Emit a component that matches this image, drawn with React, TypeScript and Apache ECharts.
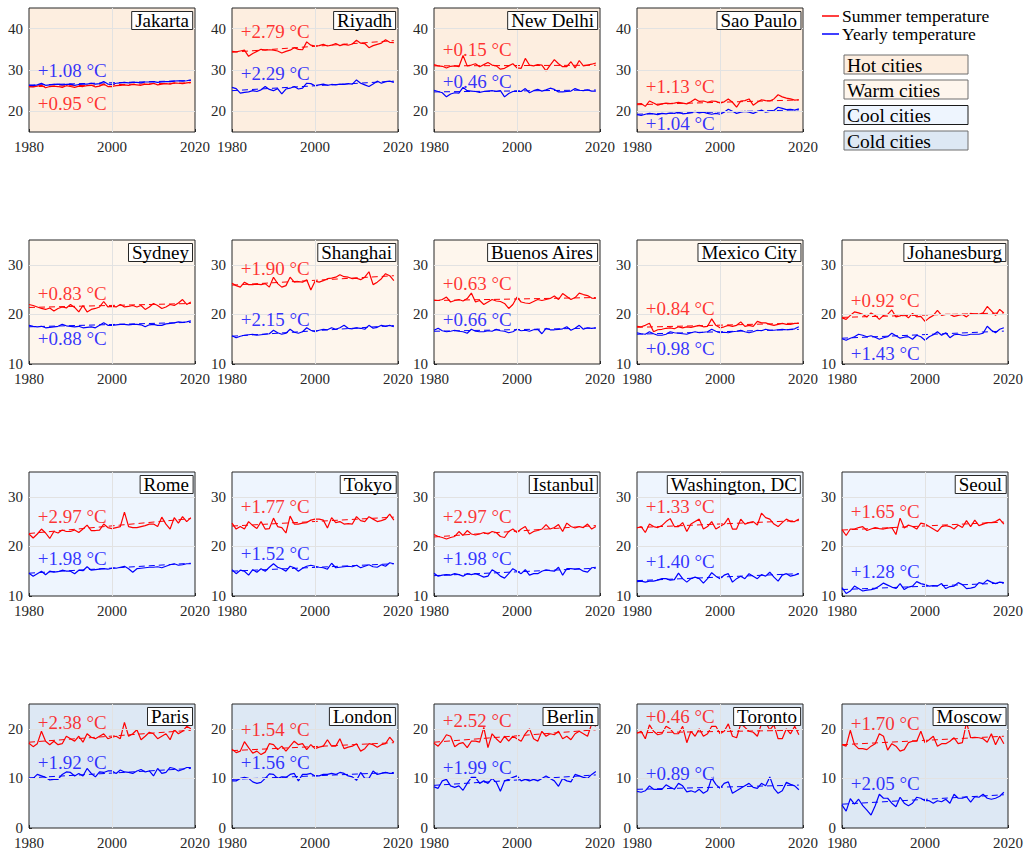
import React, { useEffect, useRef } from 'react';
import * as echarts from 'echarts';

// ---------- DATA ----------
const YEARS = [1980, 1981, 1982, 1983, 1984, 1985, 1986, 1987, 1988, 1989,
  1990, 1991, 1992, 1993, 1994, 1995, 1996, 1997, 1998, 1999,
  2000, 2001, 2002, 2003, 2004, 2005, 2006, 2007, 2008, 2009,
  2010, 2011, 2012, 2013, 2014, 2015, 2016, 2017, 2018, 2019];

const CITIES = ['Jakarta', 'Riyadh', 'New Delhi', 'Sao Paulo',
  'Sydney', 'Shanghai', 'Buenos Aires', 'Mexico City', 'Johanesburg',
  'Rome', 'Tokyo', 'Istanbul', 'Washington, DC', 'Seoul',
  'Paris', 'London', 'Berlin', 'Toronto', 'Moscow'];

const CITY_GROUP = ['Hot', 'Hot', 'Hot', 'Hot',
  'Warm', 'Warm', 'Warm', 'Warm', 'Warm',
  'Cool', 'Cool', 'Cool', 'Cool', 'Cool',
  'Cold', 'Cold', 'Cold', 'Cold', 'Cold'];

const GROUP_NAMES = ['Hot cities', 'Warm cities', 'Cool cities', 'Cold cities'];

const JAKARTA_SUMMER = [26.0,25.9,26.1,26.3,25.7,26.0,26.1,26.0,25.8,26.2,26.0,25.8,26.1,26.0,26.2,26.3,25.9,26.1,26.6,26.0,26.0,26.2,26.3,26.4,26.3,26.5,26.4,26.3,26.6,26.5,26.8,26.4,26.6,26.7,26.6,26.9,26.8,26.7,26.9,27.0];
const JAKARTA_YEARLY = [26.3,26.2,26.4,26.8,26.3,26.4,26.5,26.6,26.4,26.5,26.6,26.3,26.5,26.6,26.6,26.8,26.6,26.7,27.2,26.6,26.5,26.8,26.9,27.0,26.9,27.0,27.0,26.9,27.1,27.1,27.2,27.0,27.1,27.2,27.2,27.3,27.4,27.3,27.4,27.6];
const RIYADH_SUMMER = [34.5,34.4,34.6,34.8,33.3,34.0,34.5,35.0,34.8,34.9,34.8,34.6,34.1,34.5,34.8,35.4,35.0,34.9,36.8,36.0,35.8,35.9,36.2,35.8,36.0,36.4,35.9,36.2,36.0,36.3,37.2,36.5,36.4,35.4,35.9,36.2,36.5,37.3,36.7,36.6];
const RIYADH_YEARLY = [25.8,25.5,24.4,24.6,24.7,25.0,24.8,25.2,26.0,25.3,25.0,25.5,24.2,25.4,25.6,26.0,25.4,25.6,26.8,26.7,26.2,26.4,26.6,26.3,26.5,26.4,26.6,26.5,26.7,26.6,27.6,26.8,26.4,26.0,26.6,27.3,26.8,27.2,27.3,27.0];
const NEW_DELHI_SUMMER = [31.3,31.0,30.9,30.5,30.9,31.0,30.8,33.5,31.0,31.2,31.5,30.8,31.3,31.8,31.2,31.0,30.2,30.4,31.0,31.5,30.5,30.4,32.8,31.2,31.0,31.3,31.2,29.8,31.2,32.5,31.5,30.8,30.8,32.0,30.5,32.3,31.0,31.2,31.4,31.7];
const NEW_DELHI_YEARLY = [25.1,24.8,24.5,23.5,24.2,24.5,24.4,25.8,25.0,24.9,24.8,24.6,24.8,24.9,25.0,24.8,25.0,23.5,24.3,24.8,24.9,24.8,25.5,24.5,25.0,25.3,24.9,25.2,25.6,25.3,24.7,24.7,24.8,24.9,25.5,25.1,25.0,25.2,24.9,24.9];
const SAO_PAULO_SUMMER = [21.8,21.9,21.2,22.5,22.0,21.5,21.8,22.0,21.9,22.0,22.2,22.0,21.8,22.3,23.0,22.4,22.5,22.2,22.5,22.4,22.0,22.3,23.0,22.2,21.0,22.5,22.6,23.0,21.5,22.2,22.8,22.6,22.5,23.0,24.0,23.5,23.2,23.0,22.7,22.8];
const SAO_PAULO_YEARLY = [19.2,19.0,19.3,19.5,19.4,19.2,19.5,19.4,19.6,19.5,19.8,19.4,19.5,19.7,20.0,19.6,19.8,19.5,19.3,19.5,19.3,19.8,20.5,20.0,19.5,19.8,20.0,19.8,19.5,19.9,20.3,19.8,20.0,20.2,21.0,20.7,20.4,20.5,20.3,20.6];
const SYDNEY_SUMMER = [22.0,21.8,21.5,21.2,21.0,21.3,20.7,21.2,21.5,21.3,22.0,21.4,20.5,21.8,20.5,21.0,21.2,21.5,22.6,21.5,21.6,21.5,22.0,21.5,21.6,21.8,21.5,21.8,21.0,21.5,22.2,21.8,21.2,21.5,22.0,21.8,22.3,23.0,22.0,22.5];
const SYDNEY_YEARLY = [17.8,17.6,17.5,17.6,17.3,17.4,17.5,17.6,18.0,17.7,17.6,17.5,17.6,17.3,17.4,17.5,17.3,17.8,18.3,17.8,17.8,17.9,18.0,18.0,17.9,18.0,18.0,17.9,17.5,17.9,18.0,17.8,17.8,18.1,18.2,18.3,18.5,18.4,18.5,18.7];
const SHANGHAI_SUMMER = [26.3,25.8,25.5,26.5,26.0,26.0,26.1,26.0,26.2,25.5,27.5,26.2,25.5,25.8,27.5,26.5,26.6,26.5,27.0,24.9,26.7,26.5,26.8,27.2,27.3,27.5,28.0,27.6,27.5,27.2,27.3,27.0,27.5,28.6,26.0,26.5,27.2,28.2,27.8,26.8];
const SHANGHAI_YEARLY = [15.7,15.3,15.6,15.8,15.9,16.0,15.8,15.9,16.0,16.1,16.8,16.3,16.0,16.2,17.0,16.4,16.2,16.5,17.3,16.8,16.5,16.8,17.0,16.9,17.3,17.0,17.3,17.8,17.2,17.1,17.3,17.2,17.0,17.8,17.2,17.4,17.8,17.6,17.8,17.5];
const BUENOS_AIRES_SUMMER = [22.9,22.8,23.0,23.5,22.5,22.8,23.0,22.7,23.2,24.3,22.5,22.8,22.0,22.5,23.0,22.7,22.6,22.2,21.2,22.0,23.5,22.5,22.3,22.2,22.6,23.0,22.8,23.0,23.2,23.7,23.0,24.2,23.6,23.0,23.4,24.3,24.0,23.8,23.3,23.2];
const BUENOS_AIRES_YEARLY = [16.8,17.2,16.7,16.5,16.6,16.8,16.6,16.5,16.2,17.0,16.6,16.5,16.5,16.7,16.6,17.0,16.7,16.6,16.3,16.5,17.0,16.7,16.8,16.6,16.9,17.0,16.1,17.2,16.9,16.9,17.0,17.1,17.5,16.8,17.2,17.8,17.0,17.3,17.2,17.3];
const MEXICO_CITY_SUMMER = [17.6,17.5,17.8,18.2,16.5,16.9,17.0,17.2,17.3,17.1,17.5,17.3,17.5,17.4,17.6,17.8,17.5,17.6,19.1,17.8,17.3,17.5,17.8,17.6,17.8,18.5,17.6,17.8,17.6,18.6,18.3,18.3,18.0,17.8,18.0,18.2,18.0,18.0,18.2,18.2];
const MEXICO_CITY_YEARLY = [16.3,16.1,16.0,16.5,16.1,15.8,15.8,16.0,16.5,16.3,16.2,16.1,16.0,16.3,16.5,16.3,16.4,16.5,17.0,16.6,16.3,16.4,16.3,16.5,16.6,16.8,16.5,16.3,16.5,16.8,16.7,17.0,16.8,16.8,16.9,17.0,16.9,17.0,17.1,17.5];
const JOHANESBURG_SUMMER = [19.3,19.0,19.8,20.5,20.3,20.0,19.5,20.3,19.8,19.0,19.8,20.0,20.9,19.5,19.7,20.0,19.3,20.2,19.5,19.6,18.6,19.3,19.8,20.8,19.8,20.0,20.0,19.6,19.8,20.0,19.5,20.2,20.0,20.0,20.3,21.6,20.7,19.8,21.0,20.3];
const JOHANESBURG_YEARLY = [15.1,14.8,15.2,15.5,16.0,15.8,15.5,15.7,15.4,15.0,15.3,15.5,16.2,15.7,15.2,15.4,15.5,15.0,15.8,15.5,14.8,15.5,15.9,16.5,15.8,16.3,15.3,15.9,16.0,15.8,15.8,16.0,16.0,16.0,16.2,17.6,16.8,16.3,17.0,17.3];
const ROME_SUMMER = [22.5,21.7,22.5,23.5,22.7,21.6,23.0,22.7,23.3,23.0,23.0,23.3,22.8,23.5,24.3,23.2,23.2,23.3,24.5,23.8,23.6,23.8,24.0,26.9,24.0,23.8,23.8,24.0,24.2,24.5,24.5,24.0,25.9,24.5,23.5,25.8,24.7,26.0,25.0,25.8];
const ROME_YEARLY = [14.6,14.0,14.5,15.0,14.3,15.0,14.8,14.9,15.2,15.0,15.0,14.5,15.2,15.1,15.9,15.2,15.3,15.4,15.5,15.4,15.6,15.6,15.8,16.0,15.5,14.8,15.5,15.6,15.7,15.8,15.8,15.9,15.7,16.0,16.3,16.5,16.2,16.3,16.5,16.5];
const TOKYO_SUMMER = [24.7,23.5,24.0,23.5,25.0,24.2,23.6,25.0,23.5,23.6,25.7,24.0,23.8,22.7,26.1,24.5,24.5,24.7,24.8,25.3,25.5,25.5,25.3,23.7,25.8,24.8,25.0,24.5,24.6,24.5,26.0,25.2,25.0,26.0,25.5,25.0,25.2,25.5,26.5,25.3];
const TOKYO_YEARLY = [15.3,14.5,15.2,15.0,14.2,15.3,14.8,15.5,15.0,15.8,16.5,15.8,15.5,15.0,16.0,15.7,15.0,15.6,16.0,16.2,16.0,15.8,15.7,15.4,16.6,15.7,15.8,15.9,16.0,15.9,16.2,15.7,16.0,16.3,15.9,15.8,16.3,16.0,16.7,16.5];
const ISTANBUL_SUMMER = [22.4,22.0,21.8,21.5,21.8,22.0,23.0,22.2,23.2,22.5,22.3,22.5,22.8,22.5,23.0,22.8,22.0,21.8,23.0,23.5,22.8,23.5,24.0,22.5,23.0,23.2,23.5,24.4,23.5,23.8,24.4,23.0,24.7,24.0,23.7,24.0,23.8,24.5,23.5,24.0];
const ISTANBUL_YEARLY = [14.6,14.0,14.2,14.3,14.2,14.5,14.3,14.0,14.5,14.3,14.5,14.2,13.8,14.0,15.3,14.8,14.0,13.6,14.5,15.5,15.0,14.5,15.3,14.2,14.5,14.5,15.0,15.3,15.1,15.0,15.8,14.2,15.5,15.5,15.4,15.5,15.0,14.8,15.7,15.8];
const WASHINGTON_SUMMER = [23.7,24.0,22.8,24.5,24.0,23.8,24.2,25.0,25.6,24.0,24.0,24.8,23.0,24.5,25.0,25.5,23.5,24.0,25.0,23.5,24.0,24.5,25.7,23.5,23.5,25.5,24.5,24.8,25.0,24.3,26.7,25.8,25.5,24.5,24.0,24.8,25.5,25.0,25.0,25.5];
const WASHINGTON_YEARLY = [12.9,13.0,12.8,13.0,13.0,13.2,13.5,13.5,13.2,13.3,14.6,13.5,12.8,13.5,13.8,13.5,12.6,13.5,14.7,14.0,13.5,14.2,14.5,12.8,13.5,14.0,13.5,14.5,14.0,13.5,14.3,14.0,14.8,13.8,13.0,14.2,14.5,14.0,14.2,14.5];
const SEOUL_SUMMER = [23.4,22.2,23.5,23.5,23.8,24.0,23.2,23.5,23.8,23.6,23.5,23.7,23.8,22.4,25.7,23.7,24.3,24.0,23.5,24.7,24.5,24.0,23.5,23.0,24.0,24.2,24.0,23.5,24.3,23.8,25.2,24.0,25.3,24.2,24.5,24.8,24.8,25.0,25.5,24.5];
const SEOUL_YEARLY = [11.7,10.5,11.0,12.0,11.5,11.0,11.2,11.3,11.5,12.0,12.6,12.2,11.8,11.5,12.5,11.3,11.8,12.0,12.9,12.5,12.3,12.0,12.1,12.0,12.5,11.5,11.9,12.0,12.7,12.3,11.5,11.6,11.8,12.7,12.5,13.2,12.8,12.5,12.8,12.7];
const PARIS_SUMMER = [17.1,16.4,17.0,19.5,17.5,16.8,17.5,16.8,17.0,18.5,18.0,17.5,18.5,17.3,19.0,18.3,18.0,18.5,19.0,18.0,18.3,18.5,18.0,21.3,18.5,19.0,19.8,17.8,18.5,19.3,19.0,18.0,18.5,19.0,17.8,19.8,19.0,19.5,20.5,20.0];
const PARIS_YEARLY = [10.0,10.0,10.8,10.5,10.2,9.7,9.8,9.8,10.8,11.3,11.2,10.5,11.0,10.5,12.0,11.0,10.3,11.3,11.2,11.5,11.5,11.0,11.7,11.3,11.2,11.0,11.5,11.8,11.3,11.5,10.5,12.0,11.0,11.2,12.2,12.0,11.5,11.8,12.2,12.2];
const LONDON_SUMMER = [15.9,15.2,15.5,17.4,16.2,15.1,15.5,14.8,15.3,17.0,16.8,15.8,16.5,15.5,16.5,17.5,16.8,17.0,15.8,16.8,16.0,16.3,16.5,17.8,16.5,16.5,18.0,16.0,16.3,16.5,17.0,15.5,16.0,17.0,16.8,16.3,16.8,17.0,18.3,17.3];
const LONDON_YEARLY = [9.5,9.5,10.0,10.2,10.0,9.3,9.0,9.2,10.0,10.9,10.8,10.0,10.3,10.2,10.8,11.0,9.5,10.8,10.8,11.0,10.5,10.5,10.8,10.8,11.0,10.8,11.2,11.0,10.5,10.3,9.6,11.2,10.0,10.0,11.5,10.8,11.0,11.2,11.0,11.0];
const BERLIN_SUMMER = [17.1,16.5,17.5,18.8,18.5,16.4,17.0,17.2,16.2,17.5,17.5,17.3,20.3,16.2,19.0,18.0,17.2,18.5,17.5,18.5,18.0,17.5,19.0,20.0,18.0,17.5,19.5,18.5,19.0,18.8,19.5,18.0,18.5,17.8,19.0,19.5,19.0,18.5,21.0,20.5];
const BERLIN_YEARLY = [8.3,8.0,9.5,9.8,8.5,8.2,8.5,7.6,9.0,10.2,10.2,9.0,9.5,9.0,10.0,9.2,7.4,9.5,9.8,10.2,10.5,9.5,9.8,9.5,9.8,9.5,10.0,10.5,10.0,9.5,8.4,10.0,9.5,9.3,10.8,10.5,10.2,10.0,10.8,11.4];
const TORONTO_SUMMER = [19.1,19.5,18.0,20.8,19.5,18.8,19.0,20.5,20.0,19.0,19.0,20.5,17.2,19.5,18.5,20.0,18.5,19.0,20.5,20.5,19.0,19.5,21.0,18.5,18.2,21.0,20.3,19.5,19.3,18.5,21.0,21.2,19.8,20.8,18.0,18.0,20.0,19.0,20.5,18.8];
const TORONTO_YEARLY = [7.4,7.2,7.5,8.5,7.8,7.8,7.8,8.7,8.2,7.8,9.0,8.5,7.3,7.5,7.2,7.8,7.0,7.5,10.1,8.8,8.0,9.0,9.3,7.0,7.5,8.0,8.5,9.0,8.2,8.0,9.0,8.5,10.3,8.0,7.0,7.5,9.2,8.8,8.5,7.7];
const MOSCOW_SUMMER = [16.8,16.5,19.7,16.8,16.0,16.0,15.8,16.5,17.0,19.0,18.5,15.7,17.0,16.5,15.5,15.8,17.2,17.5,17.5,19.5,17.2,17.8,18.5,16.5,17.0,17.0,17.5,18.2,17.0,17.2,21.3,18.2,18.3,18.2,18.0,17.3,19.0,16.8,18.5,17.0];
const MOSCOW_YEARLY = [4.6,3.4,5.9,4.8,5.8,4.5,3.6,2.6,4.5,6.8,6.0,6.0,5.0,4.3,6.2,5.0,4.5,5.0,6.2,6.0,5.5,5.5,5.0,5.5,5.3,5.8,5.0,6.8,6.0,6.0,6.3,5.2,6.3,6.2,6.8,6.0,5.8,6.0,6.4,7.2];

const SUMMER_SERIES = [JAKARTA_SUMMER, RIYADH_SUMMER, NEW_DELHI_SUMMER, SAO_PAULO_SUMMER,
  SYDNEY_SUMMER, SHANGHAI_SUMMER, BUENOS_AIRES_SUMMER, MEXICO_CITY_SUMMER, JOHANESBURG_SUMMER,
  ROME_SUMMER, TOKYO_SUMMER, ISTANBUL_SUMMER, WASHINGTON_SUMMER, SEOUL_SUMMER,
  PARIS_SUMMER, LONDON_SUMMER, BERLIN_SUMMER, TORONTO_SUMMER, MOSCOW_SUMMER];
const YEARLY_SERIES = [JAKARTA_YEARLY, RIYADH_YEARLY, NEW_DELHI_YEARLY, SAO_PAULO_YEARLY,
  SYDNEY_YEARLY, SHANGHAI_YEARLY, BUENOS_AIRES_YEARLY, MEXICO_CITY_YEARLY, JOHANESBURG_YEARLY,
  ROME_YEARLY, TOKYO_YEARLY, ISTANBUL_YEARLY, WASHINGTON_YEARLY, SEOUL_YEARLY,
  PARIS_YEARLY, LONDON_YEARLY, BERLIN_YEARLY, TORONTO_YEARLY, MOSCOW_YEARLY];

const SUMMER_TREND_START = [25.95, 34.3, 31.0, 21.6, 21.4, 25.9, 22.8, 17.4, 19.4, 22.6, 24.1, 21.9, 23.8, 23.3, 17.3, 15.6, 17.3, 19.2, 16.8];
const SUMMER_TREND_END = [26.9, 37.1, 31.15, 22.75, 22.2, 27.8, 23.4, 18.24, 20.3, 25.6, 25.9, 24.2, 25.2, 24.9, 19.7, 17.2, 19.8, 19.7, 18.5];
const YEARLY_TREND_START = [26.35, 25.0, 24.7, 19.3, 17.5, 15.6, 16.6, 16.0, 15.2, 14.6, 15.0, 14.1, 13.1, 11.3, 10.1, 9.8, 8.6, 7.8, 4.8];
const YEARLY_TREND_END = [27.45, 27.3, 25.16, 20.35, 18.4, 17.75, 17.25, 16.98, 16.63, 16.6, 16.5, 15.6, 14.5, 12.6, 12.0, 11.2, 10.7, 8.65, 6.7];

const SUMMER_DELTA = [0.95, 2.79, 0.15, 1.13, 0.83, 1.90, 0.63, 0.84, 0.92, 2.97, 1.77, 2.97, 1.33, 1.65, 2.38, 1.54, 2.52, 0.46, 1.70];
const YEARLY_DELTA = [1.08, 2.29, 0.46, 1.04, 0.88, 2.15, 0.66, 0.98, 1.43, 1.98, 1.52, 1.98, 1.40, 1.28, 1.92, 1.56, 1.99, 0.89, 2.05];

const X_TICKS = [1980, 2000, 2020];
const ROW_Y_RANGE = [[15, 45], [10, 35], [10, 35], [0, 25]];
const ROW_Y_TICKS = [[20, 30, 40], [10, 20, 30], [10, 20, 30], [0, 10, 20]];

// ---------- LAYOUT ----------
const SUMMER_LABEL_Y = [22.0, 39.2, 35.0, 26.1, 24.3, 29.2, 26.2, 21.2, 22.9, 26.1, 28.1, 26.1, 28.1, 27.1, 21.3, 19.8, 21.7, 22.4, 21.1];
const YEARLY_LABEL_Y = [30.0, 29.2, 27.2, 17.0, 15.1, 19.05, 19.05, 13.1, 12.1, 17.6, 18.6, 17.5, 17.0, 14.9, 13.2, 13.2, 12.2, 10.9, 9.0];
const LABEL_X = 1982.0;

const W = 1026;
const H = 852;
const COL_LEFT = [29, 232, 434, 637, 842];
const ROW_TOP = [8, 240, 472, 704];
const PANEL_W = 166;
const PANEL_H = 124;

const FONT = '"Liberation Serif", "Times New Roman", serif';
const AXIS_COLOR = '#262626';
const GRID_COLOR = '#e2e2e2';
const RED = '#ff0000';
const BLUE = '#0000ff';
const GROUP_BG: Record<string, string> = { Hot: '#fdeee0', Warm: '#fef6ed', Cool: '#eef5fe', Cold: '#dde8f4' };
const GROUP_BORDER: Record<string, string> = { Hot: '#6e6e6e', Warm: '#6e6e6e', Cool: '#1a1a1a', Cold: '#6e6e6e' };

function panelPos(i: number) {
  if (i < 4) return { row: 0, col: i };
  const k = i - 4;
  return { row: 1 + Math.floor(k / 5), col: k % 5 };
}

function fmt(v: number) {
  return '+' + v.toFixed(2) + ' \u00B0C';
}

function buildOption() {
  const grid: any[] = [];
  const xAxis: any[] = [];
  const yAxis: any[] = [];
  const series: any[] = [];
  const title: any[] = [];

  CITIES.forEach((name, i) => {
    const { row, col } = panelPos(i);
    const left = COL_LEFT[col];
    const top = ROW_TOP[row];
    const group = CITY_GROUP[i];
    grid.push({
      left, top, width: PANEL_W, height: PANEL_H,
      show: true, backgroundColor: GROUP_BG[group], borderColor: AXIS_COLOR, borderWidth: 1,
    });
    xAxis.push({
      type: 'value', gridIndex: i, min: 1980, max: 2020,
      axisLine: { show: false },
      axisTick: { show: true, inside: true, length: 3, customValues: X_TICKS, lineStyle: { color: AXIS_COLOR } },
      axisLabel: { customValues: X_TICKS, fontFamily: FONT, fontSize: 15, color: AXIS_COLOR, margin: 7, formatter: (v: number) => String(v) },
      splitLine: { show: false },
    });
    const yr = ROW_Y_RANGE[row];
    yAxis.push({
      type: 'value', gridIndex: i, min: yr[0], max: yr[1],
      axisLine: { show: false },
      axisTick: { show: true, inside: true, length: 3, customValues: ROW_Y_TICKS[row], lineStyle: { color: AXIS_COLOR } },
      axisLabel: { customValues: ROW_Y_TICKS[row], fontFamily: FONT, fontSize: 15, color: AXIS_COLOR, margin: 6 },
      splitLine: { show: false },
    });

    const gridLines = ROW_Y_TICKS[row].filter((v) => v > yr[0] && v < yr[1]).map((v) => ({ yAxis: v }));

    series.push({
      type: 'line', xAxisIndex: i, yAxisIndex: i, z: 1, silent: true, symbol: 'none',
      data: [[YEARS[0], SUMMER_TREND_START[i]], [YEARS[YEARS.length - 1], SUMMER_TREND_END[i]]],
      lineStyle: { color: RED, width: 1, type: [6, 4] },
      markLine: {
        silent: true, symbol: ['none', 'none'], label: { show: false },
        lineStyle: { color: GRID_COLOR, width: 1, type: 'solid' },
        data: [...gridLines, { xAxis: 2000 }],
      },
    });
    series.push({
      type: 'line', xAxisIndex: i, yAxisIndex: i, z: 2, silent: true, symbol: 'none',
      data: [[YEARS[0], YEARLY_TREND_START[i]], [YEARS[YEARS.length - 1], YEARLY_TREND_END[i]]],
      lineStyle: { color: BLUE, width: 1, type: [6, 4] },
    });
    series.push({
      name: 'Summer temperature',
      type: 'line', xAxisIndex: i, yAxisIndex: i, z: 3, silent: true, symbol: 'none',
      data: YEARS.map((y, k) => [y, SUMMER_SERIES[i][k]]),
      lineStyle: { color: RED, width: 1.2 },
    });
    series.push({
      name: 'Yearly temperature',
      type: 'line', xAxisIndex: i, yAxisIndex: i, z: 3, silent: true, symbol: 'none',
      data: YEARS.map((y, k) => [y, YEARLY_SERIES[i][k]]),
      lineStyle: { color: BLUE, width: 1.2 },
    });
    series.push({
      type: 'scatter', xAxisIndex: i, yAxisIndex: i, z: 5, silent: true,
      symbolSize: 1, itemStyle: { color: 'rgba(0,0,0,0)' },
      label: { show: true, position: 'right', distance: 0, fontFamily: FONT, fontSize: 19 },
      data: [
        { value: [LABEL_X, SUMMER_LABEL_Y[i]], label: { formatter: fmt(SUMMER_DELTA[i]), color: RED } },
        { value: [LABEL_X, YEARLY_LABEL_Y[i]], label: { formatter: fmt(YEARLY_DELTA[i]), color: BLUE } },
      ],
    });

    title.push({
      text: name,
      right: W - (left + PANEL_W) + 2,
      top: top + 4,
      backgroundColor: '#ffffff',
      borderColor: AXIS_COLOR,
      borderWidth: 1,
      padding: [0, 4, 0, 4],
      textStyle: { fontFamily: FONT, fontSize: 19, fontWeight: 'normal', color: '#000', lineHeight: 17 },
    });
  });

  const graphic: any[] = [
    { type: 'line', shape: { x1: 822, y1: 16, x2: 839, y2: 16 }, style: { stroke: RED, lineWidth: 1.5 } },
    { type: 'text', x: 842, y: 16, style: { text: 'Summer temperature', fontFamily: FONT, fontSize: 17.5, fill: '#000', verticalAlign: 'middle' } },
    { type: 'line', shape: { x1: 822, y1: 34, x2: 839, y2: 34 }, style: { stroke: BLUE, lineWidth: 1.5 } },
    { type: 'text', x: 842, y: 34, style: { text: 'Yearly temperature', fontFamily: FONT, fontSize: 17.5, fill: '#000', verticalAlign: 'middle' } },
  ];
  const groupKeys = ['Hot', 'Warm', 'Cool', 'Cold'];
  const boxTops = [55, 80, 105.5, 131];
  GROUP_NAMES.forEach((g, k) => {
    graphic.push({
      type: 'rect', shape: { x: 844, y: boxTops[k], width: 124, height: 19 },
      style: { fill: GROUP_BG[groupKeys[k]], stroke: GROUP_BORDER[groupKeys[k]], lineWidth: 1 },
    });
    graphic.push({
      type: 'text', x: 847, y: boxTops[k] + 10,
      style: { text: g, fontFamily: FONT, fontSize: 19.5, fill: '#000', verticalAlign: 'middle' },
    });
  });

  return { animation: false, grid, xAxis, yAxis, series, title, graphic };
}

export default function App() {
  const ref = useRef<HTMLDivElement>(null);
  useEffect(() => {
    if (!ref.current) return;
    const chart = echarts.init(ref.current, null, { renderer: 'svg' });
    chart.setOption(buildOption() as any);
    return () => chart.dispose();
  }, []);
  return <div ref={ref} style={{ position: 'fixed', left: 0, top: 0, width: W, height: H, background: '#ffffff' }} />;
}
